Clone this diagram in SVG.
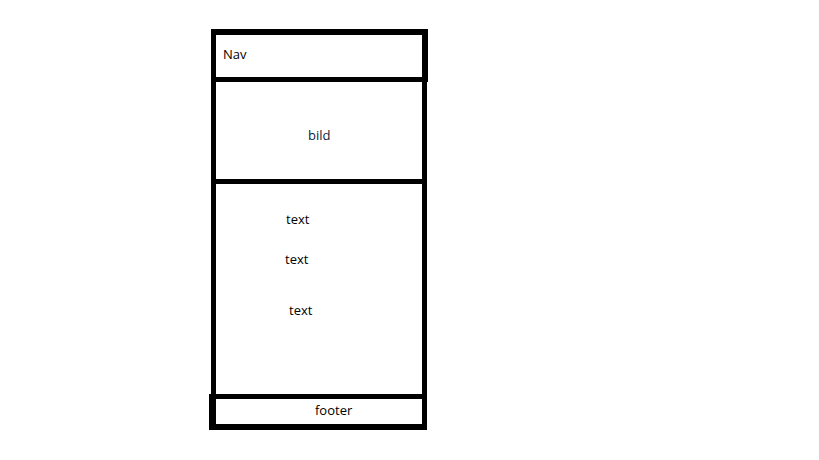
<svg xmlns="http://www.w3.org/2000/svg" width="819" height="460" viewBox="0 0 819 460">
<style>
.b{fill:#000}
.t{font-family:"Open Sans","Noto Sans","Liberation Sans",sans-serif;font-size:13px;fill:#000}
</style>
<rect width="819" height="460" fill="#fff"/>
<g id="nav">
<rect class="b" x="211" y="29" width="217" height="6"/>
<rect class="b" x="211" y="29" width="5" height="53"/>
<rect class="b" x="422" y="29" width="6" height="53"/>
<rect class="b" x="211" y="77" width="217" height="5"/>
<text class="t" x="223" y="59">Nav</text>
</g>
<g id="bild">
<rect class="b" x="211" y="82" width="5" height="102"/>
<rect class="b" x="422" y="82" width="5" height="102"/>
<rect class="b" x="211" y="179" width="216" height="5"/>
<text class="t" x="308" y="140" style="fill:#0d2240">bild</text>
</g>
<g id="content">
<rect class="b" x="211" y="184" width="5" height="212"/>
<rect class="b" x="422" y="184" width="5" height="212"/>
<text class="t" x="286" y="224">text</text>
<text class="t" x="285" y="264">text</text>
<text class="t" x="289" y="315">text</text>
</g>
<g id="footer">
<rect class="b" x="209" y="394" width="218" height="5"/>
<rect class="b" x="209" y="394" width="7" height="36"/>
<rect class="b" x="422" y="394" width="5" height="36"/>
<rect class="b" x="209" y="424" width="218" height="6"/>
<text class="t" x="315" y="415">footer</text>
</g>
<g id="connectors"/>
</svg>
